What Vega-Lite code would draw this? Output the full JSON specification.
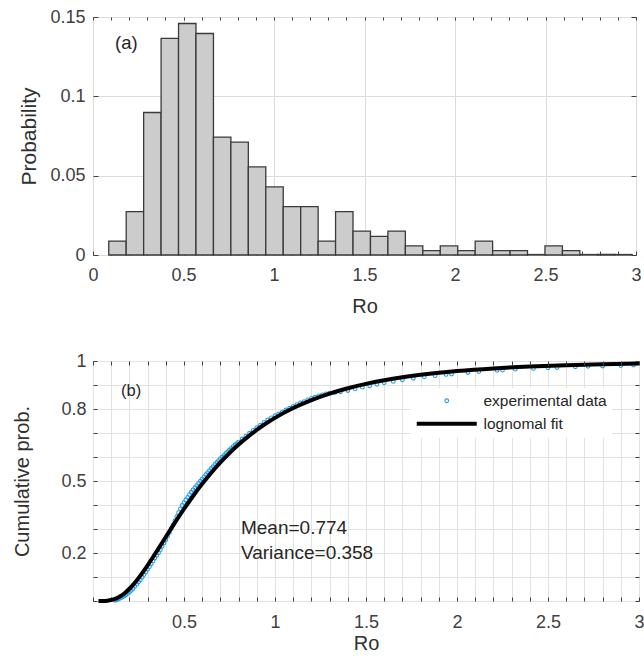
{
  "$schema": "https://vega.github.io/schema/vega-lite/v6.json",
  "padding": {"left": 12, "top": 7, "right": 0, "bottom": 0},
  "spacing": 34,
  "resolve": {
    "scale": {"color": "independent", "shape": "independent", "size": "independent", "strokeWidth": "independent"},
    "legend": {"color": "independent", "shape": "independent", "size": "independent", "strokeWidth": "independent"}
  },
  "config": {
    "font": "Liberation Sans",
    "view": {"stroke": "#404040", "strokeWidth": 1},
    "axis": {
      "labelFont": "Liberation Sans", "titleFont": "Liberation Sans",
      "labelFontSize": 18, "titleFontSize": 20, "titleFontWeight": "normal",
      "labelColor": "#404040", "titleColor": "#303030",
      "tickColor": "#404040", "domain": false, "gridColor": "#dcdcdc",
      "labelFlush": false, "labelOverlap": false, "labelBound": false
    },
    "text": {"font": "Liberation Sans"}
  },
  "datasets": {
    "bins": [
      {"start": 0.087, "end": 0.1834, "p": 0.0088},
      {"start": 0.1834, "end": 0.2798, "p": 0.0273},
      {"start": 0.2798, "end": 0.3762, "p": 0.0898},
      {"start": 0.3762, "end": 0.4726, "p": 0.1365},
      {"start": 0.4726, "end": 0.569, "p": 0.1459},
      {"start": 0.569, "end": 0.6654, "p": 0.1396},
      {"start": 0.6654, "end": 0.7618, "p": 0.0743},
      {"start": 0.7618, "end": 0.8582, "p": 0.0711},
      {"start": 0.8582, "end": 0.9546, "p": 0.0555},
      {"start": 0.9546, "end": 1.051, "p": 0.0429},
      {"start": 1.051, "end": 1.1474, "p": 0.0305},
      {"start": 1.1474, "end": 1.2438, "p": 0.0305},
      {"start": 1.2438, "end": 1.3402, "p": 0.0088},
      {"start": 1.3402, "end": 1.4366, "p": 0.0273},
      {"start": 1.4366, "end": 1.533, "p": 0.0151},
      {"start": 1.533, "end": 1.6294, "p": 0.0118},
      {"start": 1.6294, "end": 1.7258, "p": 0.0151},
      {"start": 1.7258, "end": 1.8222, "p": 0.0057},
      {"start": 1.8222, "end": 1.9186, "p": 0.0028},
      {"start": 1.9186, "end": 2.015, "p": 0.0057},
      {"start": 2.015, "end": 2.1114, "p": 0.0028},
      {"start": 2.1114, "end": 2.2078, "p": 0.0088},
      {"start": 2.2078, "end": 2.3042, "p": 0.0028},
      {"start": 2.3042, "end": 2.4006, "p": 0.0028},
      {"start": 2.4006, "end": 2.497, "p": 0.0003},
      {"start": 2.497, "end": 2.5934, "p": 0.0057},
      {"start": 2.5934, "end": 2.6898, "p": 0.0028},
      {"start": 2.6898, "end": 2.7862, "p": 0.0003},
      {"start": 2.7862, "end": 2.8826, "p": 0.0003},
      {"start": 2.8826, "end": 2.979, "p": 0.0003}
    ],
    "exp": [
      {"x": 0.12, "p": 0.003, "s": "experimental data"},
      {"x": 0.13, "p": 0.005, "s": "experimental data"},
      {"x": 0.14, "p": 0.008, "s": "experimental data"},
      {"x": 0.15, "p": 0.012, "s": "experimental data"},
      {"x": 0.16, "p": 0.016, "s": "experimental data"},
      {"x": 0.17, "p": 0.020, "s": "experimental data"},
      {"x": 0.18, "p": 0.025, "s": "experimental data"},
      {"x": 0.19, "p": 0.031, "s": "experimental data"},
      {"x": 0.20, "p": 0.037, "s": "experimental data"},
      {"x": 0.21, "p": 0.044, "s": "experimental data"},
      {"x": 0.22, "p": 0.052, "s": "experimental data"},
      {"x": 0.23, "p": 0.061, "s": "experimental data"},
      {"x": 0.24, "p": 0.070, "s": "experimental data"},
      {"x": 0.25, "p": 0.079, "s": "experimental data"},
      {"x": 0.26, "p": 0.088, "s": "experimental data"},
      {"x": 0.27, "p": 0.099, "s": "experimental data"},
      {"x": 0.28, "p": 0.110, "s": "experimental data"},
      {"x": 0.29, "p": 0.121, "s": "experimental data"},
      {"x": 0.30, "p": 0.132, "s": "experimental data"},
      {"x": 0.31, "p": 0.143, "s": "experimental data"},
      {"x": 0.32, "p": 0.155, "s": "experimental data"},
      {"x": 0.33, "p": 0.167, "s": "experimental data"},
      {"x": 0.34, "p": 0.179, "s": "experimental data"},
      {"x": 0.35, "p": 0.190, "s": "experimental data"},
      {"x": 0.36, "p": 0.201, "s": "experimental data"},
      {"x": 0.37, "p": 0.214, "s": "experimental data"},
      {"x": 0.38, "p": 0.228, "s": "experimental data"},
      {"x": 0.39, "p": 0.242, "s": "experimental data"},
      {"x": 0.40, "p": 0.255, "s": "experimental data"},
      {"x": 0.41, "p": 0.270, "s": "experimental data"},
      {"x": 0.42, "p": 0.285, "s": "experimental data"},
      {"x": 0.43, "p": 0.301, "s": "experimental data"},
      {"x": 0.44, "p": 0.317, "s": "experimental data"},
      {"x": 0.45, "p": 0.334, "s": "experimental data"},
      {"x": 0.46, "p": 0.351, "s": "experimental data"},
      {"x": 0.47, "p": 0.368, "s": "experimental data"},
      {"x": 0.48, "p": 0.384, "s": "experimental data"},
      {"x": 0.49, "p": 0.398, "s": "experimental data"},
      {"x": 0.50, "p": 0.410, "s": "experimental data"},
      {"x": 0.51, "p": 0.421, "s": "experimental data"},
      {"x": 0.52, "p": 0.432, "s": "experimental data"},
      {"x": 0.53, "p": 0.443, "s": "experimental data"},
      {"x": 0.54, "p": 0.453, "s": "experimental data"},
      {"x": 0.55, "p": 0.463, "s": "experimental data"},
      {"x": 0.56, "p": 0.472, "s": "experimental data"},
      {"x": 0.57, "p": 0.481, "s": "experimental data"},
      {"x": 0.58, "p": 0.490, "s": "experimental data"},
      {"x": 0.59, "p": 0.499, "s": "experimental data"},
      {"x": 0.60, "p": 0.508, "s": "experimental data"},
      {"x": 0.61, "p": 0.517, "s": "experimental data"},
      {"x": 0.62, "p": 0.526, "s": "experimental data"},
      {"x": 0.63, "p": 0.535, "s": "experimental data"},
      {"x": 0.64, "p": 0.543, "s": "experimental data"},
      {"x": 0.65, "p": 0.552, "s": "experimental data"},
      {"x": 0.66, "p": 0.560, "s": "experimental data"},
      {"x": 0.67, "p": 0.569, "s": "experimental data"},
      {"x": 0.68, "p": 0.577, "s": "experimental data"},
      {"x": 0.69, "p": 0.585, "s": "experimental data"},
      {"x": 0.70, "p": 0.593, "s": "experimental data"},
      {"x": 0.71, "p": 0.600, "s": "experimental data"},
      {"x": 0.72, "p": 0.607, "s": "experimental data"},
      {"x": 0.73, "p": 0.615, "s": "experimental data"},
      {"x": 0.74, "p": 0.622, "s": "experimental data"},
      {"x": 0.75, "p": 0.629, "s": "experimental data"},
      {"x": 0.76, "p": 0.636, "s": "experimental data"},
      {"x": 0.77, "p": 0.643, "s": "experimental data"},
      {"x": 0.78, "p": 0.650, "s": "experimental data"},
      {"x": 0.79, "p": 0.656, "s": "experimental data"},
      {"x": 0.80, "p": 0.662, "s": "experimental data"},
      {"x": 0.82, "p": 0.675, "s": "experimental data"},
      {"x": 0.84, "p": 0.687, "s": "experimental data"},
      {"x": 0.86, "p": 0.699, "s": "experimental data"},
      {"x": 0.88, "p": 0.711, "s": "experimental data"},
      {"x": 0.90, "p": 0.722, "s": "experimental data"},
      {"x": 0.92, "p": 0.733, "s": "experimental data"},
      {"x": 0.94, "p": 0.744, "s": "experimental data"},
      {"x": 0.96, "p": 0.754, "s": "experimental data"},
      {"x": 0.98, "p": 0.763, "s": "experimental data"},
      {"x": 1.00, "p": 0.772, "s": "experimental data"},
      {"x": 1.02, "p": 0.779, "s": "experimental data"},
      {"x": 1.04, "p": 0.787, "s": "experimental data"},
      {"x": 1.06, "p": 0.796, "s": "experimental data"},
      {"x": 1.08, "p": 0.803, "s": "experimental data"},
      {"x": 1.10, "p": 0.811, "s": "experimental data"},
      {"x": 1.12, "p": 0.818, "s": "experimental data"},
      {"x": 1.14, "p": 0.825, "s": "experimental data"},
      {"x": 1.16, "p": 0.831, "s": "experimental data"},
      {"x": 1.18, "p": 0.838, "s": "experimental data"},
      {"x": 1.20, "p": 0.844, "s": "experimental data"},
      {"x": 1.22, "p": 0.849, "s": "experimental data"},
      {"x": 1.24, "p": 0.855, "s": "experimental data"},
      {"x": 1.26, "p": 0.859, "s": "experimental data"},
      {"x": 1.28, "p": 0.863, "s": "experimental data"},
      {"x": 1.30, "p": 0.866, "s": "experimental data"},
      {"x": 1.33, "p": 0.869, "s": "experimental data"},
      {"x": 1.36, "p": 0.872, "s": "experimental data"},
      {"x": 1.40, "p": 0.877, "s": "experimental data"},
      {"x": 1.44, "p": 0.884, "s": "experimental data"},
      {"x": 1.48, "p": 0.891, "s": "experimental data"},
      {"x": 1.52, "p": 0.897, "s": "experimental data"},
      {"x": 1.56, "p": 0.903, "s": "experimental data"},
      {"x": 1.60, "p": 0.909, "s": "experimental data"},
      {"x": 1.65, "p": 0.915, "s": "experimental data"},
      {"x": 1.70, "p": 0.922, "s": "experimental data"},
      {"x": 1.76, "p": 0.928, "s": "experimental data"},
      {"x": 1.82, "p": 0.934, "s": "experimental data"},
      {"x": 1.88, "p": 0.939, "s": "experimental data"},
      {"x": 1.94, "p": 0.944, "s": "experimental data"},
      {"x": 1.97, "p": 0.946, "s": "experimental data"},
      {"x": 2.06, "p": 0.952, "s": "experimental data"},
      {"x": 2.12, "p": 0.956, "s": "experimental data"},
      {"x": 2.22, "p": 0.961, "s": "experimental data"},
      {"x": 2.25, "p": 0.962, "s": "experimental data"},
      {"x": 2.32, "p": 0.966, "s": "experimental data"},
      {"x": 2.42, "p": 0.969, "s": "experimental data"},
      {"x": 2.50, "p": 0.972, "s": "experimental data"},
      {"x": 2.55, "p": 0.973, "s": "experimental data"},
      {"x": 2.65, "p": 0.976, "s": "experimental data"},
      {"x": 2.72, "p": 0.978, "s": "experimental data"},
      {"x": 2.80, "p": 0.979, "s": "experimental data"},
      {"x": 2.90, "p": 0.981, "s": "experimental data"},
      {"x": 2.97, "p": 0.983, "s": "experimental data"}
    ],
    "fit": [
      {"x": 0.03, "p": 0.0},
      {"x": 0.05, "p": 0.0001},
      {"x": 0.08, "p": 0.0015},
      {"x": 0.10, "p": 0.0041},
      {"x": 0.125, "p": 0.0101},
      {"x": 0.15, "p": 0.0199},
      {"x": 0.175, "p": 0.0336},
      {"x": 0.20, "p": 0.0510},
      {"x": 0.225, "p": 0.0718},
      {"x": 0.25, "p": 0.0953},
      {"x": 0.275, "p": 0.1211},
      {"x": 0.30, "p": 0.1486},
      {"x": 0.35, "p": 0.2069},
      {"x": 0.40, "p": 0.2669},
      {"x": 0.45, "p": 0.3263},
      {"x": 0.50, "p": 0.3836},
      {"x": 0.55, "p": 0.4377},
      {"x": 0.60, "p": 0.4881},
      {"x": 0.65, "p": 0.5347},
      {"x": 0.70, "p": 0.5774},
      {"x": 0.75, "p": 0.6164},
      {"x": 0.80, "p": 0.6519},
      {"x": 0.85, "p": 0.6840},
      {"x": 0.90, "p": 0.7131},
      {"x": 0.95, "p": 0.7394},
      {"x": 1.00, "p": 0.7631},
      {"x": 1.10, "p": 0.8039},
      {"x": 1.20, "p": 0.8371},
      {"x": 1.30, "p": 0.8643},
      {"x": 1.40, "p": 0.8865},
      {"x": 1.50, "p": 0.9047},
      {"x": 1.60, "p": 0.9197},
      {"x": 1.70, "p": 0.9321},
      {"x": 1.80, "p": 0.9424},
      {"x": 1.90, "p": 0.9510},
      {"x": 2.00, "p": 0.9581},
      {"x": 2.20, "p": 0.9691},
      {"x": 2.40, "p": 0.9770},
      {"x": 2.60, "p": 0.9827},
      {"x": 2.80, "p": 0.9868},
      {"x": 3.00, "p": 0.9899}
    ]
  },
  "vconcat": [
    {
      "width": 543,
      "height": 238,
      "layer": [
        {
          "data": {"name": "bins"},
          "mark": {"type": "bar", "fill": "#cccccc", "stroke": "#3a3a3a", "strokeWidth": 1.3},
          "encoding": {
            "x": {
              "field": "start", "type": "quantitative",
              "scale": {"domain": [0, 3], "nice": false, "zero": false},
              "axis": {
                "orient": "bottom",
                "values": [0,0.1,0.2,0.3,0.4,0.5,0.6,0.7,0.8,0.9,1,1.1,1.2,1.3,1.4,1.5,1.6,1.7,1.8,1.9,2,2.1,2.2,2.3,2.4,2.5,2.6,2.7,2.8,2.9,3],
                "labelExpr": "abs(datum.value*2-round(datum.value*2))<0.001 ? format(datum.value,'~g') : ''",
                "grid": true,
                "gridOpacity": {"condition": {"test": "abs(datum.value*2-round(datum.value*2))<0.001", "value": 1}, "value": 0},
                "tickSize": -4, "labelPadding": 15,
                "title": "Ro", "titlePadding": 12
              }
            },
            "x2": {"field": "end"},
            "y": {
              "field": "p", "type": "quantitative",
              "scale": {"domain": [0, 0.15], "nice": false},
              "axis": {
                "orient": "left",
                "values": [0, 0.05, 0.1, 0.15],
                "labelExpr": "format(datum.value,'~g')",
                "grid": true,
                "tickSize": -5, "labelPadding": 13,
                "title": "Probability", "titlePadding": 10, "titleFontSize": 21
              }
            },
            "y2": {"datum": 0}
          }
        },
        {
          "data": {"values": [{"x": 0.122, "y": 0.1336, "t": "(a)"}]},
          "mark": {"type": "text", "align": "left", "baseline": "middle", "fontSize": 18.5, "color": "#262626"},
          "encoding": {
            "x": {
              "field": "x", "type": "quantitative",
              "axis": {
                "orient": "top",
                "values": [0,0.1,0.2,0.3,0.4,0.5,0.6,0.7,0.8,0.9,1,1.1,1.2,1.3,1.4,1.5,1.6,1.7,1.8,1.9,2,2.1,2.2,2.3,2.4,2.5,2.6,2.7,2.8,2.9,3],
                "labels": false, "grid": false, "tickSize": -3, "title": null, "zindex": 1
              }
            },
            "y": {
              "field": "y", "type": "quantitative",
              "axis": {
                "orient": "right",
                "values": [0, 0.05, 0.1, 0.15],
                "labels": false, "grid": false, "tickSize": -5, "title": null, "zindex": 1
              }
            },
            "text": {"field": "t"}
          }
        }
      ],
      "resolve": {"axis": {"x": "independent", "y": "independent"}}
    },
    {
      "width": 546,
      "height": 240,
      "layer": [
        {
          "data": {"name": "exp"},
          "mark": {"type": "point", "filled": false, "opacity": 1},
          "encoding": {
            "x": {
              "field": "x", "type": "quantitative",
              "scale": {"domain": [0, 3], "nice": false, "zero": false},
              "axis": {
                "orient": "bottom",
                "values": [0,0.1,0.2,0.3,0.4,0.5,0.6,0.7,0.8,0.9,1,1.1,1.2,1.3,1.4,1.5,1.6,1.7,1.8,1.9,2,2.1,2.2,2.3,2.4,2.5,2.6,2.7,2.8,2.9,3],
                "labelExpr": "datum.value>0.01 && abs(datum.value*2-round(datum.value*2))<0.001 ? format(datum.value,'~g') : ''",
                "grid": true, "gridColor": "#e2e2e2",
                "tickSize": -4, "labelPadding": 16,
                "title": "Ro", "titlePadding": 2
              }
            },
            "y": {
              "field": "p", "type": "quantitative",
              "scale": {"domain": [0, 1], "nice": false},
              "axis": {
                "orient": "left",
                "values": [0,0.1,0.2,0.3,0.4,0.5,0.6,0.7,0.8,0.9,1],
                "labelExpr": "abs(datum.value-0.2)<0.001 || abs(datum.value-0.5)<0.001 || abs(datum.value-0.8)<0.001 || abs(datum.value-1)<0.001 ? format(datum.value,'~g') : ''",
                "grid": true, "gridColor": "#e2e2e2",
                "tickSize": -4, "labelPadding": 11,
                "title": "Cumulative prob.", "titlePadding": 28, "titleFontSize": 20
              }
            },
            "color": {
              "field": "s", "type": "nominal",
              "scale": {"domain": ["experimental data", "lognomal fit"], "range": ["#1f9fe8", "#000000"]},
              "legend": {
                "title": null, "orient": "none", "legendX": 318, "legendY": 27,
                "fillColor": "white", "padding": 5, "rowPadding": 5,
                "symbolOffset": 23, "labelOffset": 29,
                "labelFont": "Liberation Sans", "labelFontSize": 15.5, "labelColor": "#262626"
              }
            },
            "shape": {
              "field": "s", "type": "nominal",
              "scale": {"domain": ["experimental data", "lognomal fit"], "range": ["circle", "M-6,0H6"]}
            },
            "size": {
              "field": "s", "type": "nominal",
              "scale": {"domain": ["experimental data", "lognomal fit"], "range": [14, 100]}
            },
            "strokeWidth": {
              "field": "s", "type": "nominal",
              "scale": {"domain": ["experimental data", "lognomal fit"], "range": [1.1, 4]}
            }
          }
        },
        {
          "data": {"name": "fit"},
          "mark": {"type": "line", "strokeWidth": 4, "interpolate": "monotone", "color": "#000000"},
          "encoding": {
            "x": {"field": "x", "type": "quantitative", "axis": null},
            "y": {"field": "p", "type": "quantitative", "axis": null}
          }
        },
        {
          "data": {"values": [
            {"x": 0.813, "y": 0.304, "t": "Mean=0.774"},
            {"x": 0.813, "y": 0.2, "t": "Variance=0.358"}
          ]},
          "mark": {"type": "text", "align": "left", "baseline": "middle", "color": "#262626", "fontSize": 19},
          "encoding": {
            "x": {"field": "x", "type": "quantitative", "axis": null},
            "y": {"field": "y", "type": "quantitative", "axis": null},
            "text": {"field": "t"}
          }
        },
        {
          "data": {"values": [{"x": 0.154, "y": 0.875, "t": "(b)"}]},
          "mark": {"type": "text", "align": "left", "baseline": "middle", "color": "#262626", "fontSize": 16.5},
          "encoding": {
            "x": {
              "field": "x", "type": "quantitative",
              "axis": {
                "orient": "top",
                "values": [0,0.1,0.2,0.3,0.4,0.5,0.6,0.7,0.8,0.9,1,1.1,1.2,1.3,1.4,1.5,1.6,1.7,1.8,1.9,2,2.1,2.2,2.3,2.4,2.5,2.6,2.7,2.8,2.9,3],
                "labels": false, "grid": false, "tickSize": -4, "title": null, "zindex": 1
              }
            },
            "y": {
              "field": "y", "type": "quantitative",
              "axis": {
                "orient": "right",
                "values": [0,0.1,0.2,0.3,0.4,0.5,0.6,0.7,0.8,0.9,1],
                "labels": false, "grid": false, "tickSize": -4, "title": null, "zindex": 1
              }
            },
            "text": {"field": "t"}
          }
        }
      ],
      "resolve": {"axis": {"x": "independent", "y": "independent"}}
    }
  ]
}
